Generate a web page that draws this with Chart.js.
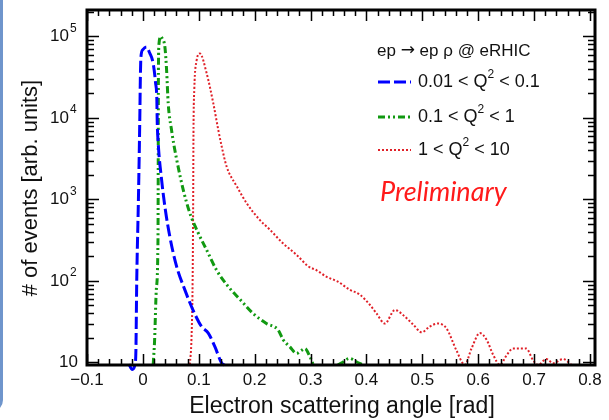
<!DOCTYPE html>
<html>
<head>
<meta charset="utf-8">
<script src="https://cdn.jsdelivr.net/npm/chart.js@4"></script>
<style>
html, body { margin: 0; padding: 0; background: #fff; }
#wrap { position: relative; width: 609px; height: 420px; overflow: hidden; }
#edge { position: absolute; left: -103px; top: -20px; width: 100px; height: 426px; border: 3px solid #6f95cc; border-radius: 12px; }
canvas { position: absolute; left: 0; top: 0; }
</style>
</head>
<body>
<div id="wrap"><div id="edge"></div><canvas id="chart" width="609" height="420"></canvas></div>
<script>
// (x in rad, y in arb. units)
const seriesLabels = ['0.01 < Q² < 0.1', '0.1 < Q² < 1', '1 < Q² < 10'];

const blueX = [-0.025, -0.019, -0.014, -0.0125, -0.011, -0.008, -0.0055, -0.0045, -0.0035, 0.0, 0.0066, 0.012, 0.0184, 0.0227, 0.025, 0.0256, 0.0274, 0.0335, 0.0394, 0.0483, 0.0603, 0.0751, 0.0899, 0.105, 0.117, 0.129, 0.141, 0.146];
const blueY = [9.5, 8.2, 9.6, 14, 100, 1000, 10000, 32000, 56000, 69000, 74000, 63000, 46800, 26900, 16600, 9330, 4900, 1740, 813, 347, 151, 77.6, 43.6, 27.5, 22.9, 15.5, 9.8, 9.3];

const greenX = [0.0184, 0.021, 0.024, 0.027, 0.0274, 0.0276, 0.0278, 0.029, 0.0322, 0.0345, 0.0394, 0.0424, 0.0453, 0.0513, 0.056, 0.0631, 0.0721, 0.0841, 0.0989, 0.114, 0.132, 0.153, 0.174, 0.197, 0.221, 0.242, 0.251, 0.263, 0.275, 0.284, 0.29, 0.299, 0.305, 0.33, 0.349, 0.355, 0.37, 0.382, 0.394];
const greenY = [9.33, 19, 77.6, 316, 2000, 10000, 38900, 83200, 100000, 95000, 74100, 38900, 15100, 7080, 4470, 2510, 1320, 676, 389, 240, 135, 85, 59, 40, 30, 25, 19, 15.5, 12.9, 14.1, 14.8, 11.7, 9.33, null, 9.33, 9.8, 11.2, 10.2, 9.33];

const redX = [0.084, 0.087, 0.089, 0.09, 0.0905, 0.092, 0.096, 0.102, 0.114, 0.126, 0.135, 0.141, 0.15, 0.168, 0.186, 0.209, 0.227, 0.251, 0.275, 0.296, 0.311, 0.329, 0.349, 0.37, 0.388, 0.406, 0.418, 0.433, 0.451, 0.466, 0.484, 0.499, 0.513, 0.528, 0.543, 0.561, 0.576, 0.588, 0.603, 0.615, 0.627, 0.639, 0.651, 0.662, 0.686, 0.698, 0.707, 0.722, 0.734, 0.752, 0.767];
const redY = [9.33, 20, 100, 1000, 6310, 22400, 50100, 61700, 35500, 15100, 7080, 4470, 2510, 1450, 891, 562, 427, 288, 209, 151, 135, 112, 98, 78, 68, 51, 40, 30, 44, 38, 29, 23.4, 27.5, 30, 26.3, 14.1, 9.33, 14.8, 22.9, 19, 12.3, 9.33, 12.3, 14.8, 14.8, 10.7, 9.33, 11, 9.8, 11, 9.33];

const yTickExponents = [1, 2, 3, 4, 5];
const xMin = -0.1, xMax = 0.809, yMin = 9.3, yMax = 211000;

const FONT = '"Liberation Sans", Arial, Helvetica, sans-serif';
const colors = ['#0000ff', '#119911', '#e02028'];
const dashes = [[12, 4], [7, 3, 2, 3, 2, 3], [2, 2]];
const widths = [3, 3, 2];

function pts(xs, ys) {
    return xs.map((x, i) => ({ x: x, y: ys[i] }));
}

const frame = {
    id: 'frame',
    afterDatasetsDraw(chart) {
        const ctx = chart.ctx;
        const a = chart.chartArea;
        const xs = chart.scales.x, ys = chart.scales.y;
        ctx.save();
        ctx.strokeStyle = '#000';
        ctx.lineWidth = 1.5;
        ctx.setLineDash([]);
        ctx.beginPath();
        // x ticks, bottom and top, inside the frame
        for (let i = -5; i <= 40; i++) {
            const px = Math.round(xs.getPixelForValue(i / 50)) + 0.5;
            const len = i % 5 === 0 ? 11 : 6;
            ctx.moveTo(px, a.bottom); ctx.lineTo(px, a.bottom - len);
            ctx.moveTo(px, a.top); ctx.lineTo(px, a.top + len);
        }
        // y ticks, left and right
        for (let k = 1; k <= 5; k++) {
            for (let m = 1; m <= 9; m++) {
                const v = m * Math.pow(10, k);
                if (v > yMax) break;
                const py = Math.round(ys.getPixelForValue(v)) + 0.5;
                const len = m === 1 ? 12 : 7;
                ctx.moveTo(a.left, py); ctx.lineTo(a.left + len, py);
                ctx.moveTo(a.right, py); ctx.lineTo(a.right - len, py);
            }
        }
        ctx.stroke();
        ctx.lineWidth = 3;
        ctx.strokeRect(a.left, a.top, a.right - a.left, a.bottom - a.top);

        // y tick labels with exponents
        ctx.fillStyle = '#111';
        ctx.textBaseline = 'middle';
        yTickExponents.forEach(e => {
            const py = ys.getPixelForValue(Math.pow(10, e));
            ctx.font = '17px ' + FONT;
            ctx.textAlign = 'right';
            if (e === 1) {
                ctx.fillText('10', a.left - 9, py);
            } else {
                ctx.fillText('10', a.left - 18, py);
                ctx.font = '12px ' + FONT;
                ctx.textAlign = 'left';
                ctx.fillText(String(e), a.left - 17, py - 8);
            }
        });

        // axis titles
        ctx.font = '23px ' + FONT;
        ctx.textAlign = 'center';
        ctx.fillText('Electron scattering angle [rad]', 342, 407);
        ctx.save();
        ctx.translate(31, 188);
        ctx.rotate(-Math.PI / 2);
        ctx.font = '22px ' + FONT;
        ctx.fillText('# of events [arb. units]', 0, 0);
        ctx.restore();

        // legend header
        ctx.textAlign = 'left';
        let hx = 377;
        ctx.font = '17px ' + FONT;
        ctx.fillText('ep ', hx, 51);
        hx += ctx.measureText('ep ').width;
        ctx.font = '17px "DejaVu Sans", sans-serif';
        ctx.fillText('\u2192', hx, 51);
        hx += ctx.measureText('\u2192').width;
        ctx.font = '17px ' + FONT;
        ctx.fillText(' ep \u03c1 @ eRHIC', hx, 51);

        const rowsY = [82, 117, 150];
        chart.data.datasets.forEach((ds, i) => {
            const y = rowsY[i];
            ctx.strokeStyle = ds.borderColor;
            ctx.lineWidth = ds.borderWidth;
            ctx.setLineDash(ds.borderDash);
            ctx.beginPath();
            ctx.moveTo(378, y); ctx.lineTo(411, y);
            ctx.stroke();
            ctx.setLineDash([]);
            const parts = ds.label.split('Q²');
            ctx.font = '18px ' + FONT;
            let x = 418;
            ctx.fillText(parts[0] + 'Q', x, y);
            x += ctx.measureText(parts[0] + 'Q').width;
            ctx.font = '12px ' + FONT;
            ctx.fillText('2', x, y - 7);
            x += ctx.measureText('2').width;
            ctx.font = '18px ' + FONT;
            ctx.fillText(parts[1], x, y);
        });

        ctx.fillStyle = '#ff1a1a';
        ctx.font = 'italic 27px Lato, "Open Sans", sans-serif';
        ctx.fillText('Preliminary', 380, 192);
        ctx.restore();
    }
};

const datasets = [[blueX, blueY], [greenX, greenY], [redX, redY]].map((s, i) => ({
    label: seriesLabels[i],
    data: pts(s[0], s[1]),
    borderColor: colors[i],
    borderWidth: widths[i],
    borderDash: dashes[i],
    pointRadius: 0,
    fill: false,
    cubicInterpolationMode: 'monotone',
    spanGaps: false,
    clip: i === 0 ? false : undefined
}));

const chart = new Chart(document.getElementById('chart').getContext('2d'), {
    type: 'line',
    data: { datasets: datasets },
    options: {
        responsive: false,
        animation: false,
        layout: { padding: { left: 0, right: 14, top: 10, bottom: 0 } },
        scales: {
            x: {
                type: 'linear',
                min: xMin,
                max: xMax,
                grid: { display: false, drawTicks: false },
                border: { display: false },
                ticks: {
                    stepSize: 0.1,
                    includeBounds: false,
                    autoSkip: false,
                    maxRotation: 0,
                    padding: 5,
                    color: '#111',
                    font: { family: FONT, size: 17 },
                    callback: v => {
                        const r = Math.round(v * 10) / 10;
                        if (r === 0) return '0';
                        return r < 0 ? '\u2212' + Math.abs(r).toFixed(1) : r.toFixed(1);
                    }
                },
                afterFit: s => { s.height = 55; }
            },
            y: {
                type: 'logarithmic',
                min: yMin,
                max: yMax,
                grid: { display: false, drawTicks: false },
                border: { display: false },
                ticks: { display: false },
                afterFit: s => { s.width = 87; }
            }
        },
        plugins: {
            legend: { display: false },
            tooltip: { enabled: false }
        }
    },
    plugins: [frame]
});
</script>
</body>
</html>
